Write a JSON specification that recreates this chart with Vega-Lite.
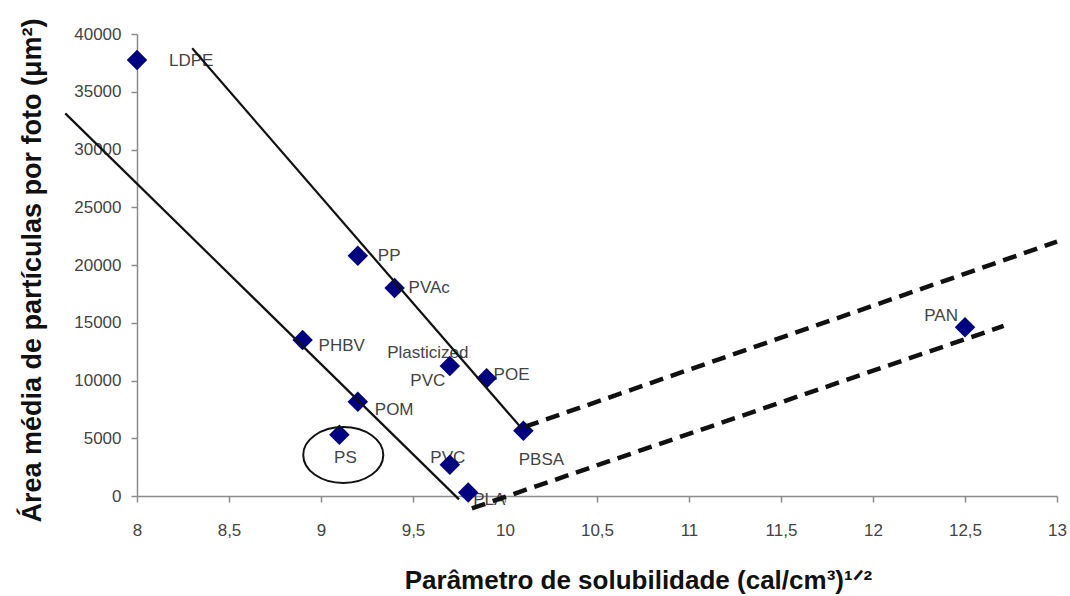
{
  "$schema": "https://vega.github.io/schema/vega-lite/v6.json",
  "width": 920,
  "height": 462,
  "autosize": {"type": "none"},
  "padding": {"left": 137, "top": 34, "right": 13, "bottom": 100},
  "background": "white",
  "config": {"view": {"stroke": null}, "font": "Liberation Sans"},
  "datasets": {
    "polymers": [
      {"name": "LDPE", "x": 8.0, "y": 37750},
      {"name": "PP", "x": 9.2, "y": 20800},
      {"name": "PVAc", "x": 9.4, "y": 18000},
      {"name": "PHBV", "x": 8.9, "y": 13500},
      {"name": "Plasticized\nPVC", "x": 9.7, "y": 11250},
      {"name": "POE", "x": 9.9, "y": 10200},
      {"name": "POM", "x": 9.2, "y": 8150},
      {"name": "PS", "x": 9.1, "y": 5300},
      {"name": "PBSA", "x": 10.1, "y": 5650},
      {"name": "PVC", "x": 9.7, "y": 2700},
      {"name": "PLA", "x": 9.8, "y": 300},
      {"name": "PAN", "x": 12.5, "y": 14600}
    ],
    "trends": [
      {"series": "A", "x": 8.30, "y": 38760},
      {"series": "A", "x": 10.09, "y": 5860},
      {"series": "B", "x": 7.61, "y": 33130},
      {"series": "B", "x": 9.75, "y": -290}
    ],
    "extrapolations": [
      {"series": "C", "x": 10.11, "y": 6000},
      {"series": "C", "x": 13.0, "y": 22020},
      {"series": "D", "x": 9.82, "y": -1065},
      {"series": "D", "x": 12.71, "y": 14720}
    ],
    "highlight": [
      {"name": "PS", "x": 9.121, "y": 3550}
    ]
  },
  "encoding": {
    "x": {
      "field": "x",
      "type": "quantitative",
      "scale": {"domain": [8, 13], "nice": false, "zero": false},
      "axis": {
        "values": [8, 8.5, 9, 9.5, 10, 10.5, 11, 11.5, 12, 12.5, 13],
        "labelExpr": "replace(format(datum.value, '~g'), '.', ',')",
        "grid": false,
        "labelFont": "Liberation Sans",
        "labelFontSize": 17,
        "labelColor": "#444444",
        "labelPadding": 20,
        "labelFlush": false,
        "domainColor": "#8c8c8c",
        "domainWidth": 1.5,
        "tickColor": "#8c8c8c",
        "tickWidth": 1.5,
        "tickSize": 6,
        "title": "Parâmetro de solubilidade (cal/cm³)¹ᐟ²",
        "titleFont": "Liberation Sans",
        "titleFontWeight": "bold",
        "titleFontSize": 26,
        "titleColor": "#111111",
        "titleAlign": "center",
        "titleBaseline": "alphabetic",
        "titleX": 501,
        "titleY": 92
      }
    },
    "y": {
      "field": "y",
      "type": "quantitative",
      "scale": {"domain": [0, 40000], "nice": false, "zero": false},
      "axis": {
        "values": [0, 5000, 10000, 15000, 20000, 25000, 30000, 35000, 40000],
        "format": "d",
        "grid": false,
        "labelFont": "Liberation Sans",
        "labelFontSize": 17,
        "labelColor": "#444444",
        "labelPadding": 10,
        "labelFlush": false,
        "domainColor": "#8c8c8c",
        "domainWidth": 1.5,
        "tickColor": "#8c8c8c",
        "tickWidth": 1.5,
        "tickSize": 6,
        "title": "Área média de partículas por foto (μm²)",
        "titleFont": "Liberation Sans",
        "titleFontWeight": "bold",
        "titleFontSize": 27,
        "titleColor": "#111111",
        "titleAngle": 270,
        "titleAlign": "center",
        "titleBaseline": "alphabetic",
        "titleX": -97,
        "titleY": 236
      }
    }
  },
  "layer": [
    {
      "data": {"name": "polymers"},
      "layer": [
        {"transform": [{"filter": "datum.name == 'LDPE'"}], "mark": {"type": "text", "align": "left", "baseline": "middle", "dx": 32, "dy": 1, "fontSize": 17, "color": "#444444"}, "encoding": {"text": {"field": "name"}}},
        {"transform": [{"filter": "datum.name == 'PP'"}], "mark": {"type": "text", "align": "left", "baseline": "middle", "dx": 20, "dy": 0, "fontSize": 17, "color": "#444444"}, "encoding": {"text": {"field": "name"}}},
        {"transform": [{"filter": "datum.name == 'PVAc'"}], "mark": {"type": "text", "align": "left", "baseline": "middle", "dx": 14, "dy": 0, "fontSize": 17, "color": "#444444"}, "encoding": {"text": {"field": "name"}}},
        {"transform": [{"filter": "datum.name == 'PHBV'"}], "mark": {"type": "text", "align": "left", "baseline": "middle", "dx": 16, "dy": 6, "fontSize": 17, "color": "#444444"}, "encoding": {"text": {"field": "name"}}},
        {"transform": [{"filter": "datum.name == 'Plasticized\\nPVC'"}], "mark": {"type": "text", "align": "center", "baseline": "middle", "dx": -22, "dy": -13, "lineBreak": "\n", "lineHeight": 28, "fontSize": 17, "color": "#444444"}, "encoding": {"text": {"field": "name"}}},
        {"transform": [{"filter": "datum.name == 'POE'"}], "mark": {"type": "text", "align": "left", "baseline": "middle", "dx": 7, "dy": -3, "fontSize": 17, "color": "#444444"}, "encoding": {"text": {"field": "name"}}},
        {"transform": [{"filter": "datum.name == 'POM'"}], "mark": {"type": "text", "align": "left", "baseline": "middle", "dx": 17, "dy": 8, "fontSize": 17, "color": "#444444"}, "encoding": {"text": {"field": "name"}}},
        {"transform": [{"filter": "datum.name == 'PS'"}], "mark": {"type": "text", "align": "center", "baseline": "middle", "dx": 6, "dy": 23, "fontSize": 17, "color": "#444444"}, "encoding": {"text": {"field": "name"}}},
        {"transform": [{"filter": "datum.name == 'PBSA'"}], "mark": {"type": "text", "align": "center", "baseline": "middle", "dx": 18, "dy": 29, "fontSize": 17, "color": "#444444"}, "encoding": {"text": {"field": "name"}}},
        {"transform": [{"filter": "datum.name == 'PVC'"}], "mark": {"type": "text", "align": "center", "baseline": "middle", "dx": -2, "dy": -7, "fontSize": 17, "color": "#444444"}, "encoding": {"text": {"field": "name"}}},
        {"transform": [{"filter": "datum.name == 'PLA'"}], "mark": {"type": "text", "align": "left", "baseline": "middle", "dx": 5, "dy": 7, "fontSize": 17, "color": "#444444"}, "encoding": {"text": {"field": "name"}}},
        {"transform": [{"filter": "datum.name == 'PAN'"}], "mark": {"type": "text", "align": "right", "baseline": "middle", "dx": -7, "dy": -11, "fontSize": 17, "color": "#444444"}, "encoding": {"text": {"field": "name"}}},
        {"mark": {"type": "point", "shape": "diamond", "filled": true, "size": 420, "color": "#000080", "opacity": 1, "strokeWidth": 0}}
      ]
    },
    {
      "data": {"name": "trends"},
      "mark": {"type": "line", "color": "#111111", "strokeWidth": 2.2, "clip": false},
      "encoding": {"detail": {"field": "series"}}
    },
    {
      "data": {"name": "extrapolations"},
      "mark": {"type": "line", "color": "#111111", "strokeWidth": 4.5, "strokeDash": [14, 8], "clip": false},
      "encoding": {"detail": {"field": "series"}}
    },
    {
      "data": {"name": "highlight"},
      "mark": {"type": "point", "shape": "M -1.43 0 A 1.43 1 0 1 0 1.43 0 A 1.43 1 0 1 0 -1.43 0 Z", "filled": false, "size": 3136, "color": "#111111", "strokeWidth": 2, "opacity": 1}
    }
  ]
}
